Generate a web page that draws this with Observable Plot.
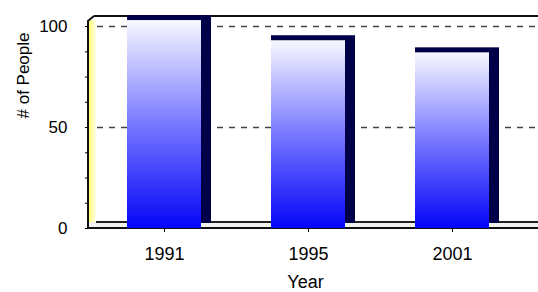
<!DOCTYPE html>
<html><head><meta charset="utf-8">
<script src="https://cdn.jsdelivr.net/npm/d3@7"></script>
<script src="https://cdn.jsdelivr.net/npm/@observablehq/plot@0.6"></script>
<style>body{margin:0;background:#fff;font-family:"Liberation Sans",Arial,sans-serif}</style>
</head><body><div id="chart"></div>
<script>
const years = ["1991", "1995", "2001"];
const people = [103, 93, 87];
const yTicks = [0, 12.5, 25, 37.5, 50, 62.5, 75, 87.5, 100];
const yLabels = [0, 50, 100];
const gridValues = [50, 100];
const data = years.map((y, i) => ({year: y, value: people[i]}));

const W = 538, H = 292;
const defs = () => {
  const d = d3.create("svg:defs");
  const g = d.append("linearGradient").attr("id", "barGrad").attr("x1", 0).attr("y1", 0).attr("x2", 0).attr("y2", 1);
  g.append("stop").attr("offset", "0%").attr("stop-color", "#f8f8ff");
  g.append("stop").attr("offset", "50%").attr("stop-color", "#7878ff");
  g.append("stop").attr("offset", "100%").attr("stop-color", "#0505f8");
  const w = d.append("linearGradient").attr("id", "wallGrad").attr("x1", 0).attr("y1", 0).attr("x2", 1).attr("y2", 0);
  w.append("stop").attr("offset", "0%").attr("stop-color", "#ffff70");
  w.append("stop").attr("offset", "100%").attr("stop-color", "#ffffff");
  return d.node();
};
const chrome = (index, scales, values, dims) => {
  const g = d3.create("svg:g");
  const y0 = scales.y(0), yTop = dims.marginTop;
  const xl = dims.marginLeft, xr = dims.width;
  g.append("rect").attr("x", xl + 1).attr("y", yTop + 4).attr("width", 8).attr("height", y0 - yTop - 6).attr("fill", "url(#wallGrad)");
  g.append("rect").attr("x", xl + 1).attr("y", y0 - 6).attr("width", xr - xl).attr("height", 6).attr("fill", "#f2f2f2");
  g.append("line").attr("x1", xl + 8).attr("x2", xr).attr("y1", y0 - 6).attr("y2", y0 - 6).attr("stroke", "#222").attr("stroke-width", 2);
  g.append("line").attr("x1", xl + 6).attr("x2", xr).attr("y1", yTop).attr("y2", yTop).attr("stroke", "#111").attr("stroke-width", 2);
  g.append("path").attr("d", `M${xl},${y0}L${xl},${yTop + 5}L${xl + 6},${yTop}`).attr("fill", "none").attr("stroke", "#111").attr("stroke-width", 2);
  g.append("line").attr("x1", xl).attr("x2", xr).attr("y1", y0).attr("y2", y0).attr("stroke", "#111").attr("stroke-width", 2);
  return g.node();
};

const plot = Plot.plot({
  width: W, height: H,
  marginLeft: 88, marginRight: 0, marginTop: 16, marginBottom: 64,
  style: {fontFamily: "Liberation Sans, Arial, sans-serif", background: "#fff"},
  x: {domain: years, range: [95, 527], padding: 0},
  y: {domain: [0, 105]},
  marks: [
    defs,
    chrome,
    Plot.ruleY(gridValues, {stroke: "#444", strokeDasharray: "6,6", strokeWidth: 1.5, insetLeft: 9}),
    Plot.barY(data, {x: "year", y: "value", fill: "#000048", insetLeft: 32, insetRight: 28, dy: -5}),
    Plot.barY(data, {x: "year", y: "value", fill: "url(#barGrad)", insetLeft: 32, insetRight: 38}),
    Plot.axisY(yTicks, {tickSize: 3, tickPadding: 18, fontSize: 17, tickFormat: d => yLabels.includes(d) ? d : "", label: null}),
    Plot.axisX({tickSize: 4, tickPadding: 15, fontSize: 18, dx: -3, label: null}),
    Plot.text(["# of People"], {frameAnchor: "left", dx: -65, dy: -4, rotate: -90, fontSize: 17, fill: "#000"}),
    Plot.text(["Year"], {frameAnchor: "bottom", x: () => "1995", dx: -6, dy: 59, fontSize: 18, fill: "#000"})
  ]
});
document.getElementById("chart").appendChild(plot);
</script>
</body></html>
